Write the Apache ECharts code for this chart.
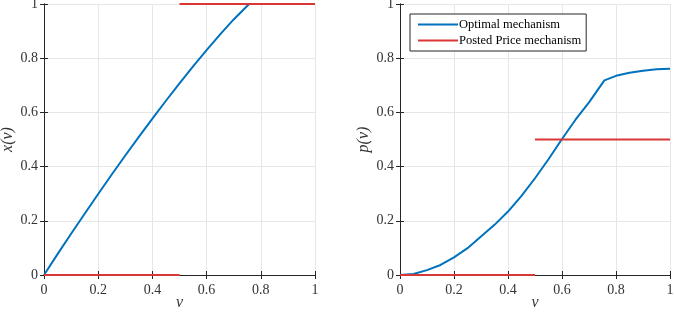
<!DOCTYPE html>
<html><head><meta charset="utf-8">
<script src="https://cdn.jsdelivr.net/npm/echarts@6/dist/echarts.min.js"></script>
<style>html,body{margin:0;padding:0;background:#fff}#c{width:674px;height:312px}</style>
</head><body><div id="c"></div>
<script>
const nu = [0,0.05,0.1,0.15,0.2,0.25,0.3,0.35,0.4,0.45,0.5,0.55,0.6,0.65,0.7,0.757,0.8,0.85,0.9,0.95,1];
const xOptimal = [0,0.077,0.152,0.226,0.299,0.371,0.441,0.51,0.577,0.643,0.707,0.77,0.83,0.888,0.943,1,1,1,1,1,1];
const pOptimal = [0,0.004,0.018,0.037,0.065,0.099,0.142,0.185,0.234,0.292,0.357,0.427,0.502,0.573,0.637,0.718,0.735,0.746,0.754,0.759,0.761];
const postedNuLow = [0,0.5];
const postedNuHigh = [0.5,1];
const postedXLow = [0,0];
const postedXHigh = [1,1];
const postedPLow = [0,0];
const postedPHigh = [0.5,0.5];
const tickLabels = ['0','0.2','0.4','0.6','0.8','1'];
const legendNames = ['Optimal mechanism','Posted Price mechanism'];

const zip = (a,b)=>a.map((v,i)=>[v,b[i]]);
const font = 'Liberation Serif';
const axisCol = '#262626';
const labelCol = '#333333';

function mainX(gi){
  return {type:'value',gridIndex:gi,min:0,max:1,interval:0.2,position:'bottom',
    name:'ν',nameLocation:'middle',nameGap:20,nameMoveOverlap:false,
    nameTextStyle:{fontFamily:font,fontStyle:'italic',fontSize:16,color:labelCol},
    axisLine:{show:true,lineStyle:{color:axisCol,width:1}},
    axisTick:{show:true,inside:true,length:4,lineStyle:{color:axisCol}},
    axisLabel:{fontFamily:font,fontSize:14,color:labelCol,margin:8,formatter:v=>tickLabels[Math.round(v/0.2)]},
    splitLine:{show:true,lineStyle:{color:'#e6e6e6',width:1}}};
}
function topX(gi){
  return {type:'value',gridIndex:gi,min:0,max:1,interval:0.2,position:'top',
    axisLine:{show:true,lineStyle:{color:axisCol,width:1}},
    axisTick:{show:true,inside:true,length:4,lineStyle:{color:axisCol}},
    axisLabel:{show:false},splitLine:{show:false}};
}
function mainY(gi,name){
  return {type:'value',gridIndex:gi,min:0,max:1,interval:0.2,position:'left',
    name:name,nameLocation:'middle',nameGap:28,nameRotate:90,nameMoveOverlap:false,
    nameTextStyle:{fontFamily:font,fontStyle:'italic',fontSize:16,color:labelCol},
    axisLine:{show:true,lineStyle:{color:axisCol,width:1}},
    axisTick:{show:true,inside:true,length:4,lineStyle:{color:axisCol}},
    axisLabel:{fontFamily:font,fontSize:14,color:labelCol,margin:6,formatter:v=>tickLabels[Math.round(v/0.2)]},
    splitLine:{show:true,lineStyle:{color:'#e6e6e6',width:1}}};
}
function rightY(gi){
  return {type:'value',gridIndex:gi,min:0,max:1,interval:0.2,position:'right',
    axisLine:{show:true,lineStyle:{color:axisCol,width:1}},
    axisTick:{show:true,inside:true,length:4,lineStyle:{color:axisCol}},
    axisLabel:{show:false},splitLine:{show:false}};
}
const blue = '#0072BD', red = '#D93636';
function line(name,data,xi,yi,color,z){
  return {type:'line',name:name,xAxisIndex:xi,yAxisIndex:yi,data:data,symbol:'none',
    clip:false,z:z,lineStyle:{color:color,width:2},itemStyle:{color:color},animation:false};
}
const chart = echarts.init(document.getElementById('c'),null,{renderer:'canvas'});
chart.setOption({
  animation:false,
  grid:[{left:44,top:4,width:271,height:271,outerBoundsMode:'none',containLabel:false},
        {left:400,top:4,width:270,height:271,outerBoundsMode:'none',containLabel:false}],
  xAxis:[mainX(0),topX(0),mainX(1),topX(1)],
  yAxis:[mainY(0,'x(ν)'),rightY(0),mainY(1,'p(ν)'),rightY(1)],
  legend:{data:legendNames,orient:'vertical',left:410,top:14,itemWidth:40,itemHeight:2,itemGap:3,
    icon:'rect',backgroundColor:'#fff',borderColor:'#262626',borderWidth:1,padding:[4,5,4,8],
    textStyle:{fontFamily:font,fontSize:12.5,color:'#000',padding:[0,0,0,-4]}},
  series:[
    line(legendNames[0],zip(nu,xOptimal),0,0,blue,2),
    line(legendNames[1],zip(postedNuLow,postedXLow),0,0,red,3),
    line(legendNames[1],zip(postedNuHigh,postedXHigh),0,0,red,3),
    line(legendNames[0],zip(nu,pOptimal),2,2,blue,2),
    line(legendNames[1],zip(postedNuLow,postedPLow),2,2,red,3),
    line(legendNames[1],zip(postedNuHigh,postedPHigh),2,2,red,3)
  ]
});
</script></body></html>
